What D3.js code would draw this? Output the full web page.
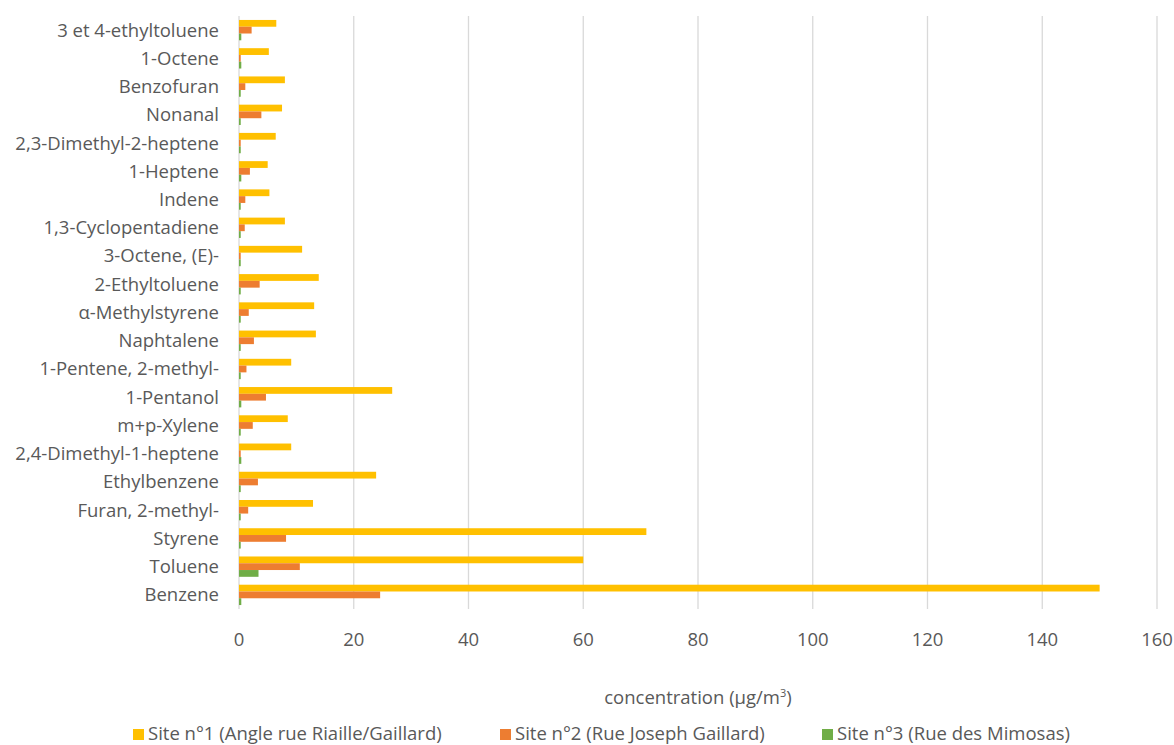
<!DOCTYPE html>
<html>
<head>
<meta charset="utf-8">
<script src="https://cdn.jsdelivr.net/npm/d3@7/dist/d3.min.js"></script>
<style>
  body { margin: 0; background: #fff; }
  text { font-family: "Open Sans", sans-serif; fill: #595959; }
</style>
</head>
<body>
<div id="chart"></div>
<script>
// categories, bottom to top as in the picture
var categories = ["Benzene", "Toluene", "Styrene", "Furan, 2-methyl-", "Ethylbenzene",
  "2,4-Dimethyl-1-heptene", "m+p-Xylene", "1-Pentanol", "1-Pentene, 2-methyl-", "Naphtalene",
  "\u03b1-Methylstyrene", "2-Ethyltoluene", "3-Octene, (E)-", "1,3-Cyclopentadiene", "Indene",
  "1-Heptene", "2,3-Dimethyl-2-heptene", "Nonanal", "Benzofuran", "1-Octene", "3 et 4-ethyltoluene"];

var site1 = [150, 60, 71, 12.9, 23.9, 9.1, 8.5, 26.7, 9.1, 13.4,
  13.1, 13.9, 11.0, 8.0, 5.3, 5.0, 6.4, 7.5, 8.0, 5.2, 6.5];
var site2 = [24.6, 10.6, 8.2, 1.6, 3.3, 0.3, 2.4, 4.7, 1.3, 2.6,
  1.7, 3.6, 0.3, 1.0, 1.1, 1.9, 0.3, 3.9, 1.1, 0.3, 2.2];
var site3 = [0.4, 3.4, 0.3, 0.3, 0.3, 0.4, 0.3, 0.4, 0.3, 0.3,
  0.3, 0.3, 0.3, 0.3, 0.3, 0.4, 0.3, 0.3, 0.3, 0.4, 0.4];

var seriesNames = ["Site n\u00b01 (Angle rue Riaille/Gaillard)", "Site n\u00b02 (Rue Joseph Gaillard)", "Site n\u00b03 (Rue des Mimosas)"];
var colors = ["#FFC000", "#ED7D31", "#70AD47"];
var xTicks = [0, 20, 40, 60, 80, 100, 120, 140, 160];

var width = 1174, height = 745;
var margin = {top: 16, right: 17, bottom: 136, left: 239};
var fs = "18.5px";

var svg = d3.select("#chart").append("svg")
  .attr("width", width)
  .attr("height", height);

var x = d3.scaleLinear().domain([0, 160]).range([margin.left, width - margin.right]);

// top category first on the band scale
var y = d3.scaleBand()
  .domain(categories.slice().reverse())
  .range([margin.top, height - margin.bottom])
  .paddingInner(0.28)
  .paddingOuter(0.14);

var y1 = d3.scaleBand().domain([0, 1, 2]).range([0, y.bandwidth()]);

// gridlines
svg.append("g")
  .selectAll("line")
  .data(xTicks)
  .enter()
  .append("line")
  .attr("x1", function(d) { return x(d); })
  .attr("x2", function(d) { return x(d); })
  .attr("y1", margin.top)
  .attr("y2", height - margin.bottom)
  .attr("stroke", "#D9D9D9")
  .attr("stroke-width", 1.3);

var all = [site1, site2, site3];

var groups = svg.append("g")
  .selectAll("g")
  .data(categories)
  .enter()
  .append("g")
  .attr("transform", function(d) { return "translate(0," + y(d) + ")"; });

groups.selectAll("rect")
  .data(function(d, i) { return all.map(function(s, k) { return {k: k, v: s[i]}; }); })
  .enter()
  .append("rect")
  .attr("x", x(0))
  .attr("y", function(d) { return y1(d.k); })
  .attr("width", function(d) { return x(d.v) - x(0); })
  .attr("height", y1.bandwidth())
  .attr("fill", function(d) { return colors[d.k]; });

// category labels
svg.append("g")
  .selectAll("text")
  .data(categories)
  .enter()
  .append("text")
  .attr("x", margin.left - 20)
  .attr("y", function(d) { return y(d) + y.bandwidth() / 2; })
  .attr("dy", "0.35em")
  .attr("text-anchor", "end")
  .attr("font-size", fs)
  .text(function(d) { return d; });

// x tick labels
svg.append("g")
  .selectAll("text")
  .data(xTicks)
  .enter()
  .append("text")
  .attr("x", function(d) { return x(d); })
  .attr("y", 640)
  .attr("dy", "0.35em")
  .attr("text-anchor", "middle")
  .attr("font-size", fs)
  .text(function(d) { return d; });

// axis title
var title = svg.append("text")
  .attr("x", (margin.left + width - margin.right) / 2)
  .attr("y", 698)
  .attr("dy", "0.35em")
  .attr("text-anchor", "middle")
  .attr("font-size", fs);
title.append("tspan").text("concentration (\u00b5g/m");
title.append("tspan").attr("font-size", "11px").attr("dy", "-7px").text("3");
title.append("tspan").attr("dy", "7px").text(")");

// legend
var legendX = [133, 500, 822];
var legend = svg.append("g")
  .selectAll("g")
  .data(seriesNames)
  .enter()
  .append("g")
  .attr("transform", function(d, i) { return "translate(" + legendX[i] + ",734)"; });

legend.append("rect")
  .attr("x", 0)
  .attr("y", -5)
  .attr("width", 11)
  .attr("height", 11)
  .attr("fill", function(d, i) { return colors[i]; });

legend.append("text")
  .attr("x", 15)
  .attr("y", 0)
  .attr("dy", "0.35em")
  .attr("font-size", fs)
  .text(function(d) { return d; });
</script>
</body>
</html>
